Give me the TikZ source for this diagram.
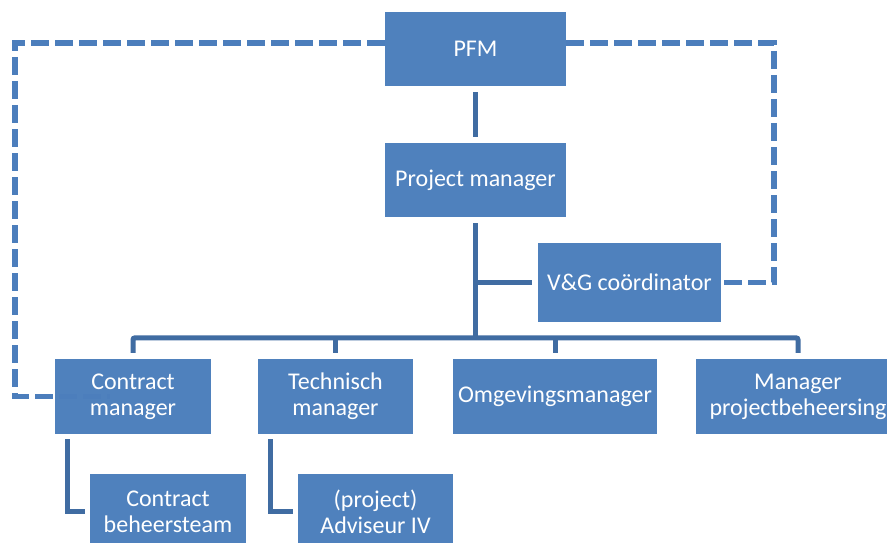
\documentclass[tikz,border=0pt]{standalone}
\usepackage{fontspec}
\setmainfont{Carlito}
\definecolor{boxblue}{RGB}{79,129,189}
\definecolor{lineblue}{RGB}{64,108,162}
\definecolor{dashblue}{RGB}{76,126,188}
\begin{document}
\begin{tikzpicture}[x=1pt,y=-1pt,
  box/.style={fill=boxblue, text=white, align=center, inner sep=0pt,
    font=\fontsize{24}{26}\selectfont},
  conn/.style={draw=lineblue, line width=5pt},
  dashline/.style={draw=dashblue, line width=5.5pt, dash pattern=on 18pt off 6pt}]
\useasboundingbox (0,0) rectangle (887,543);
\clip (0,0) rectangle (887,543);

% boxes
\node[box, minimum width=181pt, minimum height=74pt] (PFM) at (475.5,49) {PFM};
\node[box, minimum width=181pt, minimum height=74pt] (PM) at (475.5,180) {Project manager};
\node[box, minimum width=183pt, minimum height=79pt] (VG) at (629.5,282.5) {V\&G coördinator};
\node[box, minimum width=156pt, minimum height=75pt] (CM) at (133,396.5) {Contract\\manager};
\node[box, minimum width=155pt, minimum height=75pt] (TM) at (335.5,396.5) {Technisch\\manager};
\node[box, minimum width=204pt, minimum height=75pt] (OM) at (555,396.5) {Omgevingsmanager};
\node[box, minimum width=204pt, minimum height=75pt] (MP) at (798,396.5) {Manager\\projectbeheersing};
\node[box, minimum width=156pt, minimum height=75pt] (CB) at (168,511.5) {Contract\\beheersteam};
\node[box, minimum width=155pt, minimum height=75pt] (AIV) at (375.5,511.5) {(project)\\Adviseur IV};

\coordinate (bus) at (475.5,338);

% solid connectors
\draw[conn] ([yshift=-6pt]PFM.south) -- ([yshift=6pt]PM.north);
\draw[conn] ([yshift=-6pt]PM.south) -- (bus);
\draw[conn] (PM.south |- VG.west) -- ([xshift=-6pt]VG.west);
\draw[conn, rounded corners=2pt] ([yshift=6pt]CM.north) |- ([yshift=21pt]MP.north) -- ([yshift=6pt]MP.north);
\draw[conn] ([yshift=6pt]TM.north) -- ([yshift=21pt]TM.north);
\draw[conn] ([yshift=6pt]OM.north) -- ([yshift=21pt]OM.north);
\draw[conn] ([xshift=13pt,yshift=-5pt]CM.south west) |- ([xshift=-5pt]CB.west);
\draw[conn] ([xshift=13pt,yshift=-5pt]TM.south west) |- ([xshift=-5pt]AIV.west);

% dashed connectors
\draw[dashline] ([yshift=6pt]PFM.west) -| ([xshift=-40pt]CM.west) -- ([xshift=-23pt]CM.center);
\draw[dashline] ([yshift=6pt]PFM.east) -| ([xshift=53pt]VG.east) -- ([xshift=3pt]VG.east);
\end{tikzpicture}
\end{document}
